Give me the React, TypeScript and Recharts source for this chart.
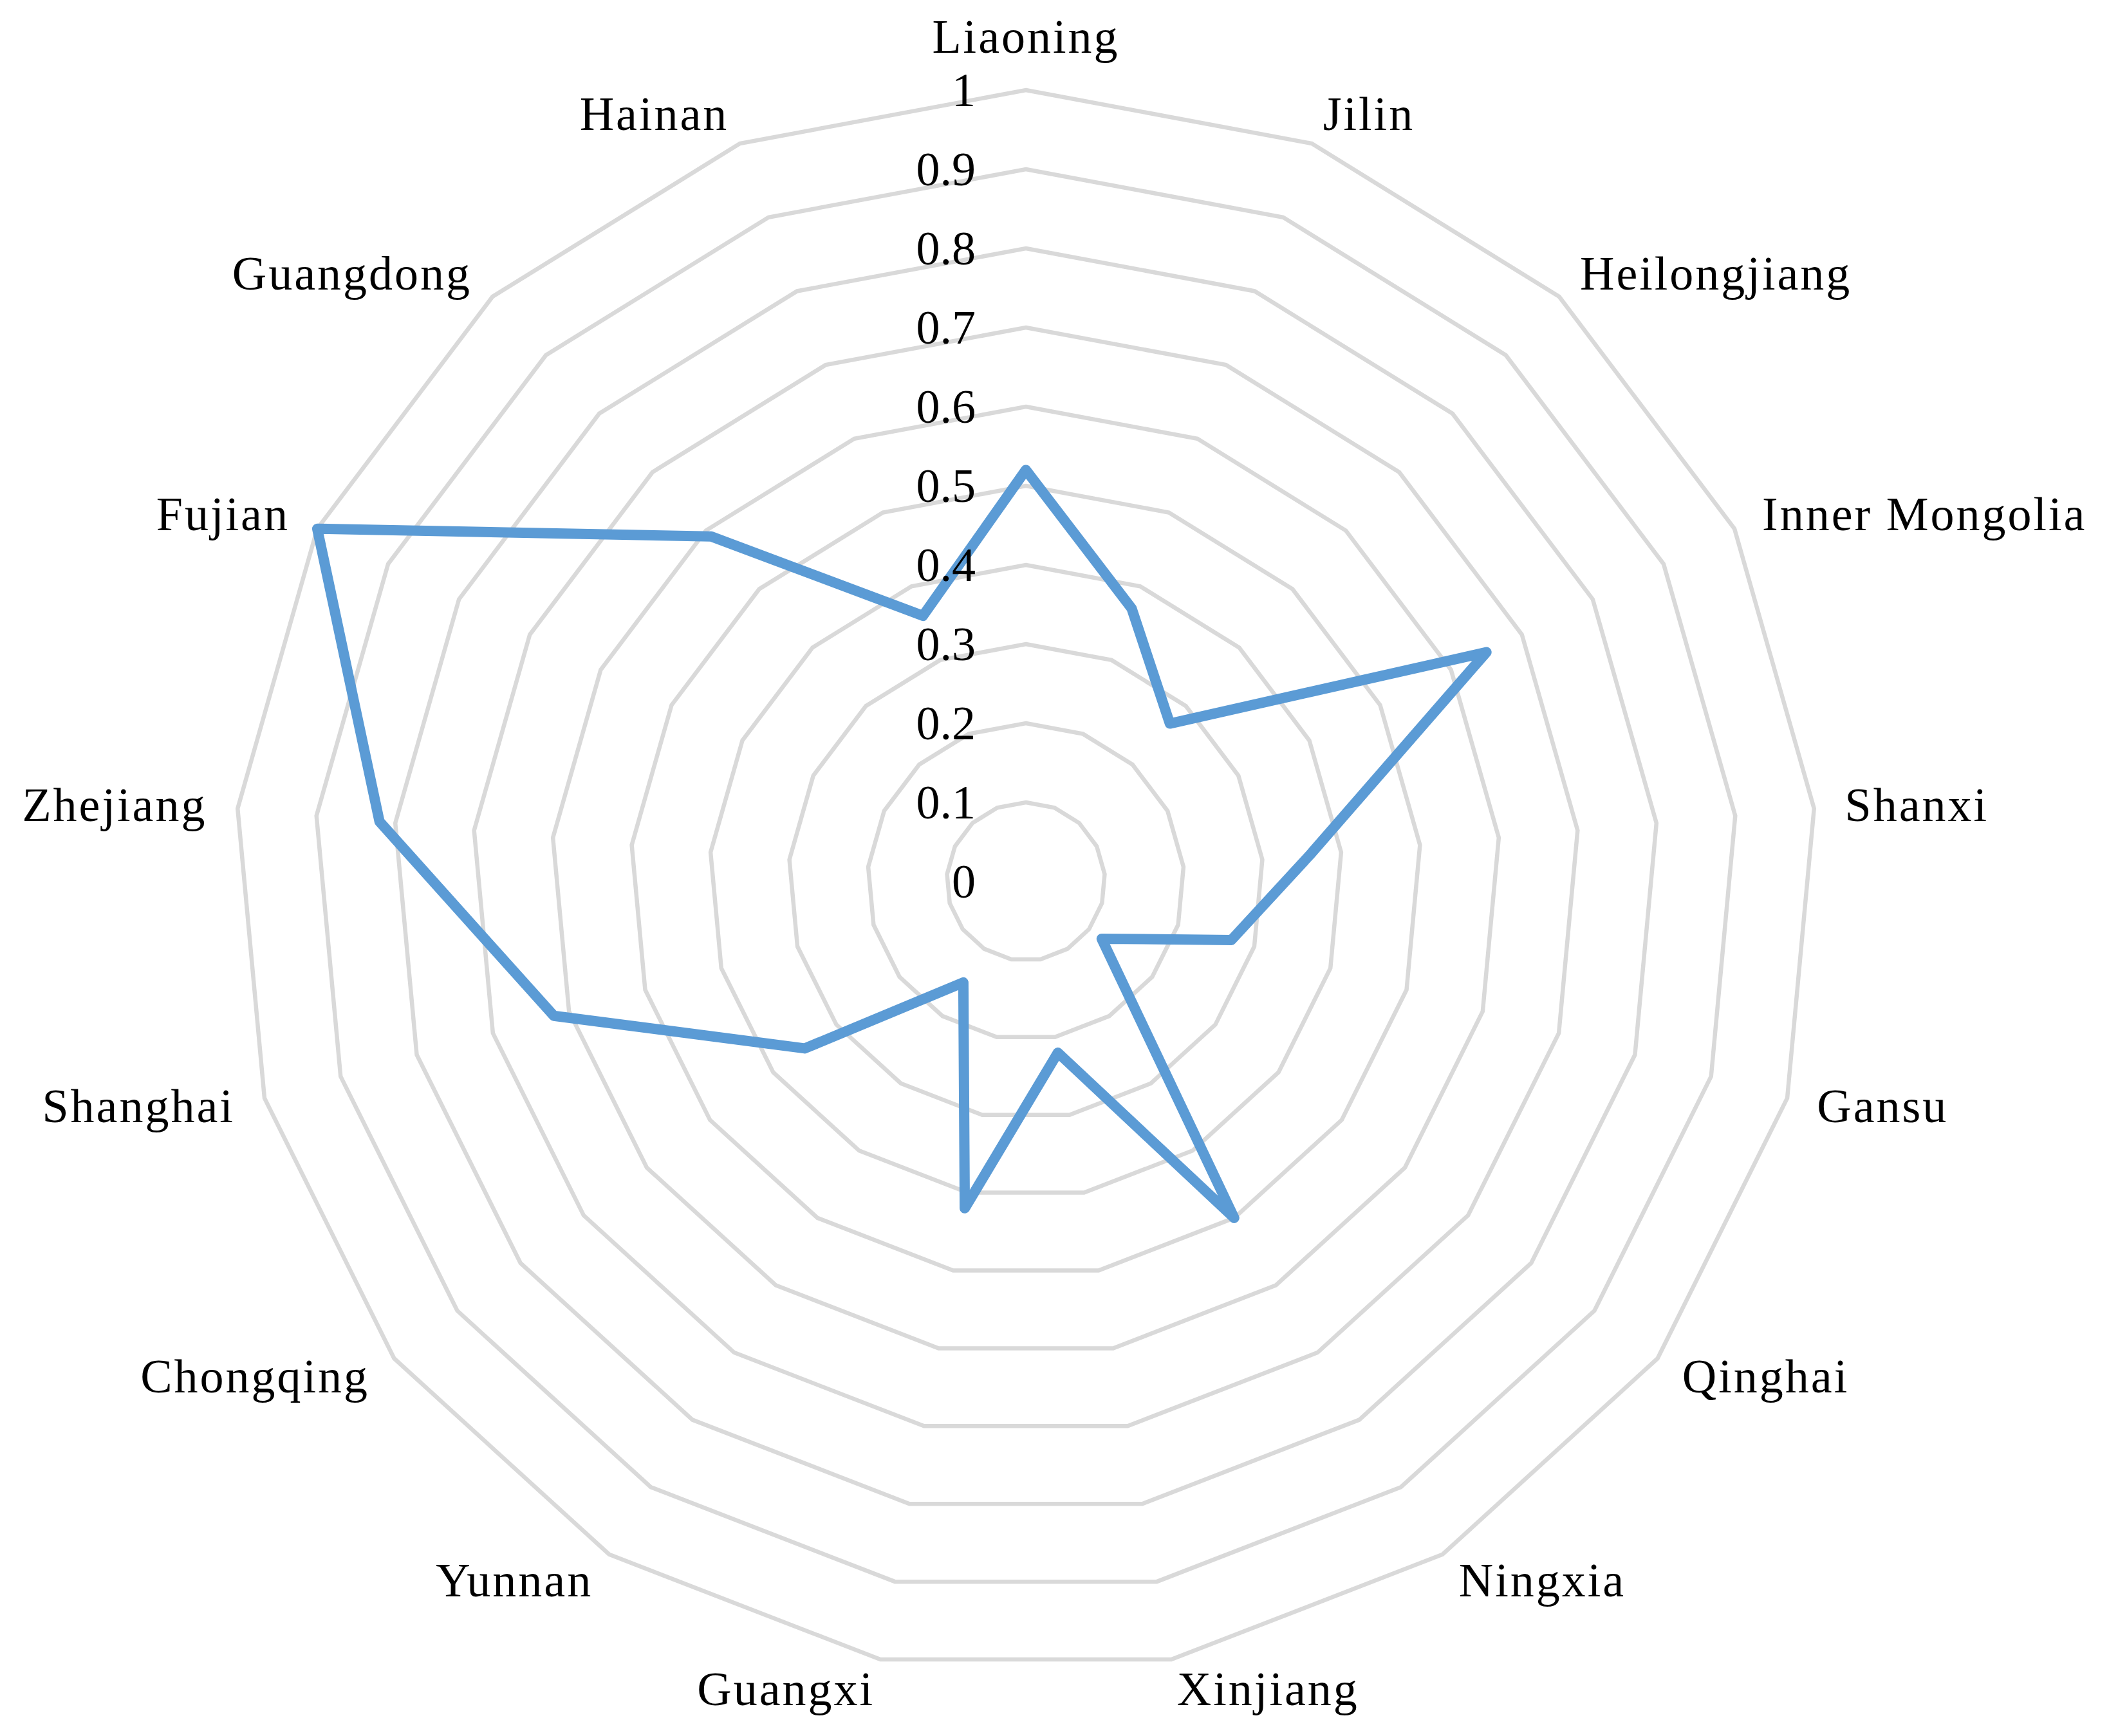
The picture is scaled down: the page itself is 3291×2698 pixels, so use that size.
import { RadarChart, Radar, PolarGrid, PolarAngleAxis, PolarRadiusAxis } from "recharts"

// provinces, clockwise from the top
const provinces = [
  "Liaoning",
  "Jilin",
  "Heilongjiang",
  "Inner Mongolia",
  "Shanxi",
  "Gansu",
  "Qinghai",
  "Ningxia",
  "Xinjiang",
  "Guangxi",
  "Yunnan",
  "Chongqing",
  "Shanghai",
  "Zhejiang",
  "Fujian",
  "Guangdong",
  "Hainan",
]

const scores = [0.52, 0.37, 0.27, 0.65, 0.36, 0.27, 0.12, 0.5, 0.22, 0.42, 0.15, 0.35, 0.62, 0.82, 1.0, 0.59, 0.36]

const radiusTicks = [0, 0.1, 0.2, 0.3, 0.4, 0.5, 0.6, 0.7, 0.8, 0.9, 1]

const data = provinces.map((name, i) => ({ name, score: scores[i] }))

const FONT = "'Liberation Serif', 'Times New Roman', serif"

function AngleTick(props: any) {
  const { x, y, textAnchor, payload } = props
  const top = textAnchor === "middle"
  return (
    <text
      x={x}
      y={top ? y - 10 : y + 24}
      textAnchor={textAnchor}
      fontFamily={FONT}
      fontSize={74}
      letterSpacing={3}
      fill="#000"
    >
      {payload.value}
    </text>
  )
}

function RadiusTick(props: any) {
  const { x, y, payload } = props
  return (
    <text x={x - 78} y={y + 25} textAnchor="end" fontFamily={FONT} fontSize={74} fill="#000">
      {String(payload.value)}
    </text>
  )
}

export default function App() {
  return (
    <div style={{ position: "absolute", left: 0, top: 0, background: "#fff" }}>
      <RadarChart
        width={3291}
        height={2698}
        data={data}
        cx={1594}
        cy={1370}
        outerRadius={1230}
        margin={{ top: 0, right: 0, bottom: 0, left: 0 }}
      >
        <PolarGrid gridType="polygon" radialLines={false} stroke="#D9D9D9" strokeWidth={6.5} />
        <PolarAngleAxis
          dataKey="name"
          tick={AngleTick}
          tickLine={false}
          axisLine={false}
          tickSize={48}
        />
        <PolarRadiusAxis
          angle={90}
          domain={[0, 1]}
          ticks={radiusTicks as any}
          tick={RadiusTick}
          axisLine={false}
          tickLine={false}
        />
        <Radar
          dataKey="score"
          stroke="#5B9BD5"
          strokeWidth={16}
          strokeLinejoin="round"
          fill="none"
          fillOpacity={0}
          dot={false}
          isAnimationActive={false}
        />
      </RadarChart>
    </div>
  )
}
